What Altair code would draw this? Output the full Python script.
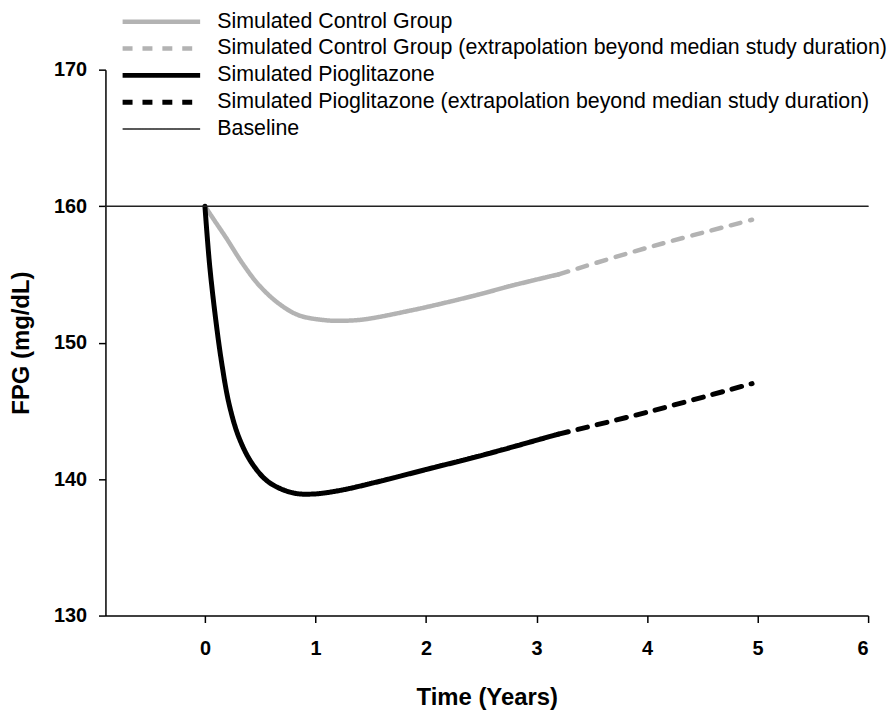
import altair as alt
import pandas as pd

SERIES = [
    "Simulated Control Group",
    "Simulated Control Group (extrapolation beyond median study duration)",
    "Simulated Pioglitazone",
    "Simulated Pioglitazone (extrapolation beyond median study duration)",
    "Baseline",
]

# Values
ctrl_t = [0, 0.09, 0.19, 0.34, 0.49, 0.67, 0.85, 1.09, 1.24, 1.44, 1.89, 2.19, 2.49, 2.79, 3.2]
ctrl_fpg = [160, 158.9, 157.7, 155.8, 154.2, 152.85, 152.0, 151.64, 151.6, 151.7,
            152.4, 152.95, 153.55, 154.2, 155.0]
ctrl_ext_t = [3.2, 4.0, 4.95]
ctrl_ext_fpg = [155.0, 156.95, 159.0]

pio_t = [0, 0.04, 0.09, 0.15, 0.22, 0.31, 0.43, 0.58, 0.79, 0.97, 1.21, 1.59, 2.0, 2.49, 3.2]
pio_fpg = [160, 155.9, 152.2, 148.6, 145.45, 143.0, 141.1, 139.76, 139.0, 138.9,
           139.15, 139.85, 140.7, 141.7, 143.3]
pio_ext_t = [3.2, 4.0, 4.95]
pio_ext_fpg = [143.3, 144.9, 147.0]

base_t = [-0.9, 6]
base_fpg = [160, 160]

X_TICKS = [0, 1, 2, 3, 4, 5, 6]
Y_TICKS = [130, 140, 150, 160, 170]

COLORS = ["#b3b3b3", "#b3b3b3", "#000000", "#000000", "#222222"]
DASHES = [[1, 0], [10, 10], [1, 0], [10, 10], [1, 0]]
WIDTHS = [4.5, 4.5, 5, 5, 1.5]

FONT = "Liberation Sans"

rows = []
for name, ts, vals in zip(
    SERIES,
    [ctrl_t, ctrl_ext_t, pio_t, pio_ext_t, base_t],
    [ctrl_fpg, ctrl_ext_fpg, pio_fpg, pio_ext_fpg, base_fpg],
):
    for i, (t, v) in enumerate(zip(ts, vals)):
        rows.append({"series": name, "t": t, "fpg": v, "i": i})
df = pd.DataFrame(rows)

legend = alt.Legend(
    title=None,
    orient="none",
    legendX=17,
    legendY=-59,
    padding=0,
    symbolType="M-1.5,0L9.64,0",
    symbolSize=196,
    symbolOffset=0,
    labelOffset=74,
    rowPadding=4,
    labelFont=FONT,
    labelFontSize=21.5,
    labelColor="black",
    labelLimit=1000,
)

chart = (
    alt.Chart(df)
    .mark_line(interpolate="catmull-rom", strokeCap="round")
    .encode(
        x=alt.X(
            "t:Q",
            title="Time (Years)",
            scale=alt.Scale(domain=[-0.9, 6], nice=False, zero=False),
            axis=alt.Axis(values=X_TICKS, labelPadding=16, titlePadding=27),
        ),
        y=alt.Y(
            "fpg:Q",
            title="FPG (mg/dL)",
            scale=alt.Scale(domain=[130, 170], nice=False, zero=False),
            axis=alt.Axis(values=Y_TICKS, labelPadding=12, titlePadding=20),
        ),
        color=alt.Color("series:N", scale=alt.Scale(domain=SERIES, range=COLORS), legend=legend),
        strokeDash=alt.StrokeDash("series:N", scale=alt.Scale(domain=SERIES, range=DASHES), legend=legend),
        strokeWidth=alt.StrokeWidth(
            "series:N",
            scale=alt.Scale(type="ordinal", domain=SERIES, range=WIDTHS),
            legend=legend,
        ),
        order="i:Q",
    )
    .properties(
        width=767,
        height=549,
        autosize=alt.AutoSizeParams(type="none"),
        padding={"left": 98, "top": 60, "right": 20, "bottom": 97},
    )
    .configure_view(stroke=None)
    .configure_axis(
        grid=False,
        domainColor="black",
        domainWidth=1.5,
        tickColor="black",
        tickWidth=1.5,
        tickSize=7,
        labelFont=FONT,
        labelFontSize=20,
        labelFontWeight="bold",
        labelColor="black",
        titleFont=FONT,
        titleFontSize=24,
        titleFontWeight="bold",
        titleColor="black",
    )
)

chart.save("out.html", embed_options={"renderer": "svg", "actions": False})
